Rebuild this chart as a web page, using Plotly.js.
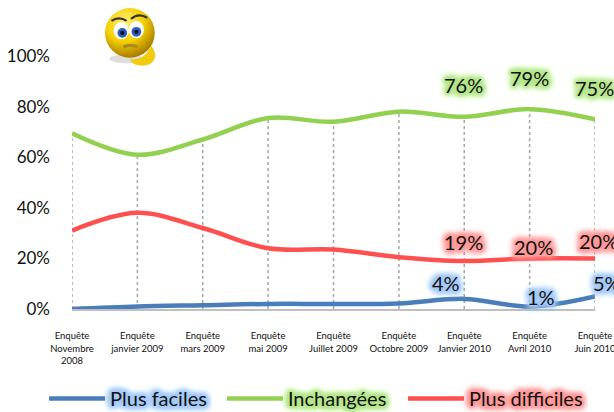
<!DOCTYPE html>
<html><head><meta charset="utf-8">
<script src="https://cdn.plot.ly/plotly-3.0.0.min.js"></script>
<style>html,body{margin:0;padding:0;background:#fff}#c{width:614px;height:412px}</style>
</head><body><div id="c"></div>
<script>
const categories = ["Enquête<br>Novembre<br>2008","Enquête<br>janvier 2009","Enquête<br>mars 2009","Enquête<br>mai 2009","Enquête<br>Juillet 2009","Enquête<br>Octobre 2009","Enquête<br>Janvier 2010","Enquête<br>Avril 2010","Enquête<br>Juin 2010"];
const positions = [0,1,2,3,4,5,6,7,8];
const plusFaciles = [0,1,1.5,2,2,2.2,4,1,5];
const inchangees = [69.5,61,67,75.5,74,78,76,79,75];
const plusDifficiles = [31,38,32,24,23.5,20.5,19,20,20];
const yTicks = [0,20,40,60,80,100];
const yTickLabels = ["0%","20%","40%","60%","80%","100%"];
const labelIdx = [6,7,8];
const fBlue="#4a7ebb", fGreen="#92d050", fRed="#ff5050";
const glow = c => [2,3,3,4,4,5,5,6,6,7,7,8,8,9,10,12].map(b=>`0 0 ${b}px ${c}`).join(", ");
const gBlue=glow("#a4caf6"), gGreen=glow("#b4e68a"), gRed=glow("#ff9a9a");
const FONT="Lato, sans-serif";

const face = `<svg xmlns="http://www.w3.org/2000/svg" width="60" height="60" viewBox="0 0 60 60">
<defs><radialGradient id="g" cx="40%" cy="30%" r="70%"><stop offset="0" stop-color="#fff27a"/><stop offset=".55" stop-color="#f4cf00"/><stop offset="1" stop-color="#a87c00"/></radialGradient></defs>
<ellipse cx="25" cy="50" rx="16" ry="4" fill="#ddd"/>
<circle cx="28" cy="26" r="23" fill="url(#g)"/>
<ellipse cx="20" cy="24" rx="7" ry="8" fill="#fff"/><ellipse cx="34" cy="23" rx="7" ry="8" fill="#fff"/>
<circle cx="21" cy="26" r="4.5" fill="#2a5fc0"/><circle cx="34" cy="25" r="4.5" fill="#2a5fc0"/>
<circle cx="21" cy="26" r="2" fill="#111"/><circle cx="34" cy="25" r="2" fill="#111"/>
<path d="M11 15 Q18 10 25 15" stroke="#333" stroke-width="2" fill="none"/><path d="M29 13 Q36 7 44 12" stroke="#333" stroke-width="2" fill="none"/>
<path d="M22 39 Q28 36 35 39" stroke="#a98a20" stroke-width="3" fill="none"/>
<path d="M28 50 Q38 52 44 44 L48 38 Q53 46 51 50 Q47 58 36 56 Q29 55 28 50Z" fill="#f2cb10"/>
</svg>`;

const common = {x:positions, type:"scatter", mode:"lines", hoverinfo:"skip", cliponaxis:false};
const traces = [
 {...common, y:plusFaciles, name:"Plus faciles", legend:"legend", line:{color:fBlue,width:4.5,shape:"spline"}},
 {...common, y:inchangees, name:"Inchangées", legend:"legend2", line:{color:fGreen,width:4.5,shape:"spline"}},
 {...common, y:plusDifficiles, name:"Plus difficiles", legend:"legend3", line:{color:fRed,width:4.5,shape:"spline"}}
];
const dropLines = positions.map((p,i)=>({type:"line",xref:"x",yref:"y",x0:p,x1:p,y0:0,y1:inchangees[i],layer:"below",line:{color:"#a6a6a6",width:1.5,dash:"dot"}}));

const shiftGreen=[[-1,32],[0,31],[-1,31]], shiftRed=[[-1,19],[4,11],[3,17]], shiftBlue=[[-18,16],[11,9],[12,13]];
function labels(vals, shifts, shadow){
  return labelIdx.map((k,j)=>({x:positions[k],y:vals[k],xref:"x",yref:"y",text:Math.round(vals[k])+"%",showarrow:false,xanchor:"center",yanchor:"middle",
    xshift:shifts[j][0],yshift:shifts[j][1],font:{family:FONT,size:20,color:"#111",shadow}}));
}
const legendBase = (x,shadow)=>({orientation:"h",x:x,xref:"paper",y:-0.354,yref:"paper",xanchor:"left",yanchor:"middle",bgcolor:"rgba(0,0,0,0)",borderwidth:0,itemwidth:56,
  font:{family:FONT,size:20,color:"#111",shadow}});
const layout = {
 width:614,height:412,paper_bgcolor:"#fff",plot_bgcolor:"#fff",
 margin:{l:72,r:19,t:56,b:103,pad:0,autoexpand:false},
 showlegend:true,
 xaxis:{range:[0,8],tickmode:"array",tickvals:positions,ticktext:categories,showgrid:false,zeroline:false,showline:true,linecolor:"#bfbfbf",linewidth:2,ticks:"",ticklabelstandoff:17,ticklabeloverflow:"allow",tickangle:0,tickfont:{family:FONT,size:9.5,color:"#111"}},
 yaxis:{range:[0,100],tickmode:"array",tickvals:yTicks,ticktext:yTickLabels,showgrid:false,zeroline:false,showline:false,ticks:"",ticklabelstandoff:21,tickfont:{family:FONT,size:17,color:"#111"}},
 shapes:dropLines,
 annotations:[...labels(inchangees,shiftGreen,gGreen),...labels(plusDifficiles,shiftRed,gRed),...labels(plusFaciles,shiftBlue,gBlue)],
 legend:legendBase(-0.0534,gBlue),legend2:legendBase(0.2866,gGreen),legend3:legendBase(0.6328,gRed),
 images:[{source:"data:image/svg+xml;charset=utf-8,"+encodeURIComponent(face),xref:"paper",yref:"paper",x:0.0528,y:1.2028,sizex:0.124,sizey:0.257,sizing:"contain",xanchor:"left",yanchor:"top",layer:"above"}]
};
Plotly.newPlot("c",traces,layout,{displayModeBar:false,staticPlot:true});
</script></body></html>
